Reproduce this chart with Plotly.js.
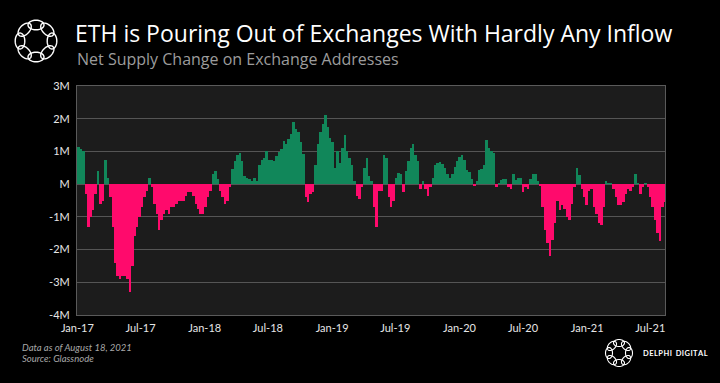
<!DOCTYPE html>
<html>
<head>
<meta charset="utf-8">
<script src="https://cdn.plot.ly/plotly-3.0.1.min.js"></script>
<style>
html,body{margin:0;padding:0;background:#000;}
#chart{width:720px;height:383px;}
</style>
</head>
<body>
<div id="chart"></div>
<script>
// Weekly net supply change on exchange addresses (millions ETH), weeks starting 2017-01-01
const firstWeek = '2017-01-01';
const netChange = [
  1.15,1.08,1.0,-0.3,-1.3,-1.0,-0.8,-0.3,0.4,-0.6,
  -0.5,0.75,0.2,-0.4,-1.3,-2.4,-2.8,-2.9,-2.8,-2.8,
  -2.9,-3.3,-2.5,-1.6,-1.3,-1.0,-0.7,-0.4,-0.2,0.2,
  -0.1,-0.6,-0.9,-1.4,-1.1,-0.9,-0.8,-0.9,-0.7,-0.7,
  -0.6,-0.5,-0.5,-0.5,-0.35,-0.25,-0.25,-0.35,-0.6,-0.75,
  -0.9,-0.9,-0.7,-0.4,-0.2,0.3,0.4,0.15,-0.2,-0.4,
  -0.6,-0.5,-0.1,0.45,0.7,0.88,0.95,0.7,0.25,0.2,
  0.15,0.1,0.2,0.1,0.6,0.75,0.8,1.0,0.75,0.75,
  0.72,0.87,0.98,1.08,1.33,1.23,1.38,1.53,1.89,1.7,
  1.6,1.28,0.92,-0.4,-0.55,-0.3,-0.25,0.6,1.23,1.6,
  1.85,2.1,1.75,1.4,1.3,0.5,1.0,0.65,1.1,1.5,
  1.0,0.8,0.6,0.1,-0.35,-0.45,-0.1,0.5,0.8,0.25,
  0.1,-0.7,-1.3,-0.2,-0.2,0.9,0.8,-0.4,-0.7,-0.5,
  0.2,0.35,0.3,-0.25,0.4,0.7,1.1,1.23,0.9,0.7,
  -0.15,0.1,-0.15,-0.35,-0.1,0.2,0.6,0.65,0.68,0.62,
  0.5,0.32,0.2,0.3,0.52,0.7,0.82,0.9,0.75,0.42,
  0.37,0.15,-0.05,0.1,0.42,0.45,0.6,1.35,1.1,1.0,
  0.95,-0.1,0.05,0.12,0.15,0.15,-0.1,-0.15,0.3,0.12,
  0.18,0.2,-0.25,-0.1,-0.15,0.15,0.3,0.3,0.1,-0.05,
  -0.7,-1.4,-1.8,-2.2,-1.7,-1.2,-0.5,-0.8,-0.65,-0.75,
  -1.0,-1.1,-0.6,-0.1,0.5,0.27,-0.15,-0.4,-0.65,-0.2,
  -0.15,-0.7,-0.9,-1.2,-1.25,-0.7,0.1,0.05,0.05,-0.15,
  -0.4,-0.65,-0.65,-0.55,-0.3,-0.15,-0.2,-0.1,0.3,0.05,
  -0.3,-0.1,0.05,-0.1,-0.4,-0.7,-1.1,-1.5,-1.75,-0.7,
  -0.55
];
const xTickVals = ['2017-01-01','2017-07-01','2018-01-01','2018-07-01','2019-01-01','2019-07-01','2020-01-01','2020-07-01','2021-01-01','2021-07-01'];
const xTickText = ['Jan-17','Jul-17','Jan-18','Jul-18','Jan-19','Jul-19','Jan-20','Jul-20','Jan-21','Jul-21'];
const yTickVals = [-4,-3,-2,-1,0,1,2,3];
const yTickText = ['-4M','-3M','-2M','-1M','M','1M','2M','3M'];

const DAY = 86400000;
const t0 = Date.parse(firstWeek + 'T00:00:00Z');
const weekMid = netChange.map((_, i) => new Date(t0 + (7 * i + 3.5) * DAY).toISOString());
const barColors = netChange.map(v => v >= 0 ? '#11875a' : '#ff0a6c');

// plot area geometry in pixels (for decorative logo shapes)
const L = 77, T = 86, W = 588, H = 229;
const px = x => (x - L) / W;
const py = y => (T + H - y) / H;
function ring(cx, cy, R, a, b, lw) {
  const shapes = [];
  for (let k = 0; k < 8; k++) {
    const th = k * Math.PI / 4 - Math.PI / 2;
    const ex = cx + R * Math.cos(th), ey = cy + R * Math.sin(th);
    let d = '';
    for (let j = 0; j <= 36; j++) {
      const t = j / 36 * 2 * Math.PI;
      const X = ex + a * Math.cos(t) * (-Math.sin(th)) + b * Math.sin(t) * Math.cos(th);
      const Y = ey + a * Math.cos(t) * Math.cos(th) + b * Math.sin(t) * Math.sin(th);
      d += (j === 0 ? 'M' : 'L') + px(X).toFixed(5) + ',' + py(Y).toFixed(5);
    }
    shapes.push({type: 'path', xref: 'paper', yref: 'paper', path: d + 'Z',
      line: {color: '#ffffff', width: lw}, fillcolor: 'rgba(0,0,0,0)'});
  }
  return shapes;
}

const data = [{
  type: 'bar',
  x: weekMid,
  y: netChange,
  width: netChange.map(() => 7 * DAY),
  marker: {color: barColors, line: {width: 0}},
  hoverinfo: 'x+y'
}];

const layout = {
  width: 720, height: 383,
  paper_bgcolor: '#000000',
  plot_bgcolor: '#1c1c1c',
  margin: {l: L, r: 720 - L - W, t: T, b: 383 - T - H, pad: 0},
  showlegend: false,
  bargap: 0,
  font: {family: 'Lato, sans-serif', color: '#e6e6e6'},
  title: {text: 'ETH is Pouring Out of Exchanges With Hardly Any Inflow',
    x: 75 / 720, xanchor: 'left', y: 1 - 33.5 / 383, yanchor: 'middle',
    font: {family: '"Open Sans", sans-serif', size: 23, color: '#ffffff'}},
  xaxis: {
    type: 'date',
    range: ['2016-12-31', '2021-08-12'],
    tickvals: xTickVals, ticktext: xTickText,
    tickfont: {size: 11, color: '#e6e6e6'},
    ticklabelstandoff: 3,
    showgrid: false, zeroline: false,
    showline: true, linecolor: '#5a5a5a', linewidth: 1, mirror: true,
    ticks: '', ticklen: 0
  },
  yaxis: {
    range: [-4, 3],
    tickvals: yTickVals, ticktext: yTickText,
    tickfont: {size: 11, color: '#e6e6e6'},
    ticklabelstandoff: 4,
    showgrid: true, gridcolor: '#555555', gridwidth: 1,
    zeroline: false,
    showline: true, linecolor: '#5a5a5a', linewidth: 1, mirror: true,
    ticks: '', ticklen: 0
  },
  annotations: [
    {text: 'Net Supply Change on Exchange Addresses', xref: 'paper', yref: 'paper',
      x: px(75), y: py(58.5), xanchor: 'left', yanchor: 'middle', showarrow: false,
      font: {family: '"Open Sans", sans-serif', size: 16, color: '#9c9c9c'}},
    {text: '<i>Data as of August 18, 2021</i>', xref: 'paper', yref: 'paper',
      x: px(20), y: py(347), xanchor: 'left', yanchor: 'middle', showarrow: false,
      font: {family: 'Lato, sans-serif', size: 9.5, color: '#a8a8a8'}},
    {text: '<i>Source: Glassnode</i>', xref: 'paper', yref: 'paper',
      x: px(20), y: py(358), xanchor: 'left', yanchor: 'middle', showarrow: false,
      font: {family: 'Lato, sans-serif', size: 9.5, color: '#a8a8a8'}},
    {text: 'D\u200AE\u200AL\u200AP\u200AH\u200AI\u2002D\u200AI\u200AG\u200AI\u200AT\u200AA\u200AL', xref: 'paper', yref: 'paper',
      x: px(641), y: py(353), xanchor: 'left', yanchor: 'middle', showarrow: false,
      font: {family: 'Lato, sans-serif', size: 7.5, color: '#ffffff', weight: 700}}
  ],
  shapes: [].concat(ring(36, 41, 16, 8, 4.8, 1.4), ring(619, 353, 10, 5.5, 3.5, 1.1))
};

Plotly.newPlot('chart', data, layout, {displayModeBar: false, staticPlot: true});
</script>
</body>
</html>
